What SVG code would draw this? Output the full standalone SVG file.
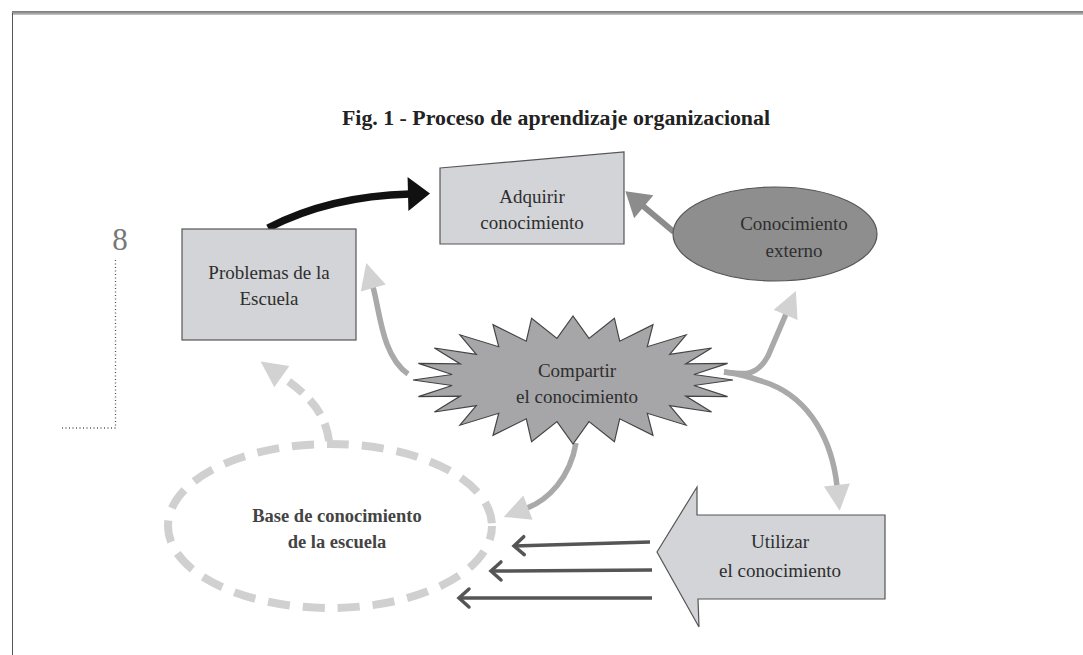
<svg xmlns="http://www.w3.org/2000/svg" width="1083" height="655" viewBox="0 0 1083 655">
<style>
  .lbl { font-family: "Liberation Serif", "Times New Roman", serif; font-size: 19px; fill: #2e2e2e; text-anchor: middle; }
  .box { fill: #d2d4d7; stroke: #555; stroke-width: 1.2; }
  .conn { fill: none; stroke: #a9a9a9; stroke-width: 5.5; }
  .thin { fill: none; stroke: #555; stroke-width: 3.5; }
</style>
<defs>
  <linearGradient id="hdr" x1="0" y1="0" x2="0" y2="1">
    <stop offset="0" stop-color="#777"/>
    <stop offset="0.5" stop-color="#999"/>
    <stop offset="1" stop-color="#ccc"/>
  </linearGradient>
  <marker id="mBlack" markerUnits="userSpaceOnUse" markerWidth="22" markerHeight="34" viewBox="0 0 22 34" refX="2" refY="17" orient="auto" overflow="visible">
    <path d="M0,0 L22,17 L0,34 z" fill="#111"/>
  </marker>
  <marker id="mDark" markerUnits="userSpaceOnUse" markerWidth="24" markerHeight="30" viewBox="0 0 24 30" refX="1" refY="15" orient="auto" overflow="visible">
    <path d="M0,0 L24,15 L0,30 z" fill="#8c8c8c"/>
  </marker>
  <marker id="mLight" markerUnits="userSpaceOnUse" markerWidth="26" markerHeight="26" viewBox="0 0 26 26" refX="1" refY="13" orient="auto" overflow="visible">
    <path d="M0,0 L26,13 L0,26 z" fill="#d2d2d2"/>
  </marker>
  <marker id="mChev" markerUnits="userSpaceOnUse" markerWidth="14" markerHeight="22" viewBox="0 0 14 22" refX="12" refY="11" orient="auto" overflow="visible">
    <path d="M2,2 L12,11 L2,20" fill="none" stroke="#555" stroke-width="3.5" stroke-linecap="round"/>
  </marker>
</defs>
<rect width="1083" height="655" fill="#fff"/>
<rect x="12" y="11" width="1071" height="4" fill="url(#hdr)"/>
<line x1="12.5" y1="13" x2="12.5" y2="655" stroke="#555" stroke-width="1"/>

<text x="342" y="125" font-family="Liberation Serif, Times New Roman, serif" font-size="20" font-weight="bold" fill="#222" textLength="428" lengthAdjust="spacingAndGlyphs">Fig. 1 - Proceso de aprendizaje organizacional</text>

<text x="120" y="250" font-family="Liberation Serif, Times New Roman, serif" font-size="31" fill="#777" text-anchor="middle">8</text>
<path d="M115.5,260 V428 H60" fill="none" stroke="#555" stroke-width="1.3" stroke-dasharray="1 2.5"/>

<g id="connectors">
  <path d="M268,228 Q330,196 410,194" fill="none" stroke="#111" stroke-width="7.5" marker-end="url(#mBlack)"/>
  <path d="M674,232 L643,206" fill="none" stroke="#8c8c8c" stroke-width="6" marker-end="url(#mDark)"/>
  <path d="M724,372 C742,374 756,378 768,356 L786,314" class="conn" marker-end="url(#mLight)"/>
  <path d="M724,372 C742,374 752,378 770,384 C810,400 832,440 837,486" class="conn" marker-end="url(#mLight)"/>
  <path d="M576,443 C570,478 548,500 527,508" class="conn" marker-end="url(#mLight)"/>
  <path d="M408,374 C382,356 380,312 373,287" class="conn" marker-end="url(#mLight)"/>
  <path d="M329,441 C325,408 302,391 281,376" fill="none" stroke="#d0d0d0" stroke-width="8" stroke-dasharray="18 10" marker-end="url(#mLight)"/>
  <path d="M650,542 L514,546" class="thin" marker-end="url(#mChev)"/>
  <path d="M652,570 L491,571" class="thin" marker-end="url(#mChev)"/>
  <path d="M652,598 L459,598" class="thin" marker-end="url(#mChev)"/>
</g>

<g id="problemas">
  <rect x="182" y="229" width="174" height="111" class="box"/>
  <text x="269" y="279" class="lbl">Problemas de la</text>
  <text x="269" y="305" class="lbl">Escuela</text>
</g>

<g id="adquirir">
  <polygon points="440,168 624,152 624,244 440,244" class="box"/>
  <text x="532" y="203" class="lbl">Adquirir</text>
  <text x="532" y="229" class="lbl">conocimiento</text>
</g>

<g id="externo">
  <ellipse cx="775" cy="234" rx="102" ry="47" fill="#8e8e8e" stroke="#555" stroke-width="1.2"/>
  <text x="794" y="230" class="lbl">Conocimiento</text>
  <text x="794" y="257" class="lbl">externo</text>
</g>

<g id="compartir">
  <polygon fill="#a6a6a8" stroke="#444" stroke-width="1.2" points="733,380 693.9,374.5 727.6,363.4 685.7,363.9 711.6,348 669.7,354.4 686.1,334.8 647.3,346.7 653,324.6 619.7,341.2 614.4,318.2 589,338.4 573,316 557,338.4 531.6,318.2 526.3,341.2 493,324.6 498.7,346.7 459.9,334.8 476.3,354.4 434.4,348 460.3,363.9 418.4,363.4 452.1,374.5 413,380 452.1,385.5 418.4,396.6 460.3,396.1 434.4,412 476.3,405.6 459.9,425.2 498.7,413.3 493,435.4 526.3,418.8 531.6,441.8 557,421.6 573,444 589,421.6 614.4,441.8 619.7,418.8 653,435.4 647.3,413.3 686.1,425.2 669.7,405.6 711.6,412 685.7,396.1 727.6,396.6 693.9,385.5"/>
  <text x="577" y="377" class="lbl">Compartir</text>
  <text x="577" y="403" class="lbl">el conocimiento</text>
</g>

<g id="base">
  <ellipse cx="330" cy="526" rx="162" ry="82" fill="none" stroke="#d0d0d0" stroke-width="8" stroke-dasharray="22 13" stroke-dashoffset="8"/>
  <text x="337" y="522" class="lbl" font-weight="bold" style="fill:#444;font-size:18.5px">Base de conocimiento</text>
  <text x="337" y="548" class="lbl" font-weight="bold" style="fill:#444;font-size:18.5px">de la escuela</text>
</g>

<g id="utilizar">
  <polygon points="657,552 697,487 697,515 885,515 885,599 698,599 699,627" class="box"/>
  <text x="780" y="548" class="lbl">Utilizar</text>
  <text x="780" y="577" class="lbl">el conocimiento</text>
</g>
</svg>
